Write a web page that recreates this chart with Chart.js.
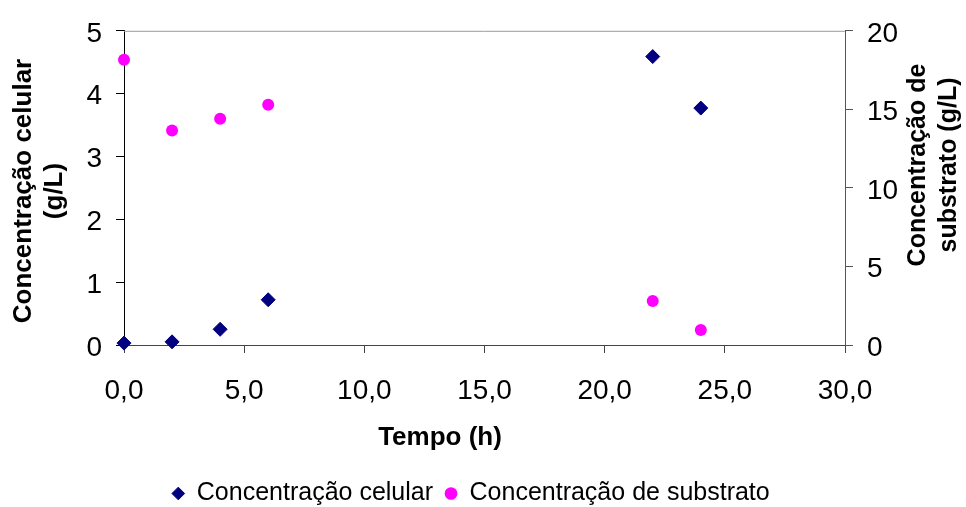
<!DOCTYPE html>
<html>
<head>
<meta charset="utf-8">
<script src="https://cdn.jsdelivr.net/npm/chart.js@4.4.1/dist/chart.umd.min.js"></script>
<style>
  html, body { margin: 0; padding: 0; background: #fff; }
  #wrap { width: 966px; height: 507px; position: relative; }
</style>
</head>
<body>
<div id="wrap"><canvas id="chart"></canvas></div>
<script>
const TIME_H = [0, 2, 4, 6, 22, 24];
const CELL_CONC = [0.03, 0.05, 0.25, 0.72, 4.59, 3.77];
const SUBSTRATE_CONC = [18.15, 13.65, 14.4, 15.3, 2.8, 0.95];

const X_TITLE = "Tempo (h)";
const Y_LEFT_TITLE = ["Concentração celular", "(g/L)"];
const Y_RIGHT_TITLE = ["Concentração de", "substrato (g/L)"];
const LABEL_CELL = "Concentração celular";
const LABEL_SUBSTRATE = "Concentração de substrato";

const FONT = "'Liberation Sans', Arial, sans-serif";

function fmtComma(v) {
  return v.toFixed(1).replace(".", ",");
}

function toPoints(xs, ys) {
  return xs.map((x, i) => ({ x: x, y: ys[i] }));
}

// Excel-style axis titles: both vertical titles read bottom-to-top,
// and the x title sits a bit left of the plot centre.
const axisTitles = {
  id: "axisTitles",
  beforeDatasetsDraw(chart) {
    const { ctx, chartArea } = chart;
    ctx.save();
    ctx.strokeStyle = "#9a9a9a";
    ctx.lineWidth = 1;
    ctx.beginPath();
    ctx.moveTo(chartArea.left, chartArea.top + 0.5);
    ctx.lineTo(chartArea.right, chartArea.top + 0.5);
    ctx.stroke();
    ctx.restore();
  },
  afterDraw(chart) {
    const ctx = chart.ctx;
    ctx.save();
    ctx.fillStyle = "#000";
    ctx.textAlign = "center";
    ctx.textBaseline = "alphabetic";

    ctx.font = "bold 26px " + FONT;
    ctx.fillText(X_TITLE, 440, 445);

    ctx.save();
    ctx.translate(0, 191);
    ctx.rotate(-Math.PI / 2);
    ctx.fillText(Y_LEFT_TITLE[0], 0, 31);
    ctx.fillText(Y_LEFT_TITLE[1], 0, 62);
    ctx.restore();

    ctx.font = "bold 25px " + FONT;
    ctx.save();
    ctx.translate(0, 165);
    ctx.rotate(-Math.PI / 2);
    ctx.fillText(Y_RIGHT_TITLE[0], 0, 925);
    ctx.fillText(Y_RIGHT_TITLE[1], 0, 956);
    ctx.restore();

    ctx.restore();
  },
};

new Chart(document.getElementById("chart"), {
  type: "scatter",
  data: {
    datasets: [
      {
        label: LABEL_CELL,
        data: toPoints(TIME_H, CELL_CONC),
        yAxisID: "y",
        pointStyle: "rectRot",
        pointRadius: 7,
        pointHoverRadius: 7,
        backgroundColor: "#000080",
        borderColor: "#000080",
        borderWidth: 1,
        clip: false,
      },
      {
        label: LABEL_SUBSTRATE,
        data: toPoints(TIME_H, SUBSTRATE_CONC),
        yAxisID: "y2",
        pointStyle: "circle",
        pointRadius: 6,
        pointHoverRadius: 6,
        backgroundColor: "#ff00ff",
        borderColor: "#ff00ff",
        borderWidth: 0,
        clip: false,
      },
    ],
  },
  options: {
    responsive: true,
    maintainAspectRatio: false,
    animation: false,
    events: [],
    layout: { padding: { left: 0, right: 24, top: 27, bottom: -9 } },
    plugins: {
      tooltip: { enabled: false },
      legend: {
        position: "bottom",
        labels: {
          usePointStyle: true,
          boxWidth: 12,
          boxHeight: 9,
          padding: 12,
          color: "#000",
          font: { family: FONT, size: 25 },
        },
      },
    },
    scales: {
      x: {
        type: "linear",
        min: 0,
        max: 30,
        afterFit: (s) => { s.height = 124; },
        ticks: {
          stepSize: 5,
          padding: 21,
          color: "#000",
          font: { family: FONT, size: 28 },
          maxRotation: 0,
          callback: (v) => fmtComma(v),
        },
        grid: { drawOnChartArea: false, tickLength: 8, tickColor: "#444" },
        border: { color: "#444", width: 1 },
      },
      y: {
        position: "left",
        min: 0,
        max: 5,
        afterFit: (s) => { s.width = 124; },
        ticks: {
          stepSize: 1,
          padding: 14,
          labelOffset: 3,
          color: "#000",
          font: { family: FONT, size: 28 },
        },
        grid: { drawOnChartArea: false, tickLength: 8, tickColor: "#000" },
        border: { color: "#000", width: 1 },
      },
      y2: {
        position: "right",
        min: 0,
        max: 20,
        afterFit: (s) => { s.width = 97; },
        ticks: {
          stepSize: 5,
          padding: 14,
          labelOffset: 3,
          color: "#000",
          font: { family: FONT, size: 28 },
        },
        grid: { drawOnChartArea: false, tickLength: 8, tickColor: "#555" },
        border: { color: "#555", width: 1 },
      },
    },
  },
  plugins: [axisTitles],
});
</script>
</body>
</html>
